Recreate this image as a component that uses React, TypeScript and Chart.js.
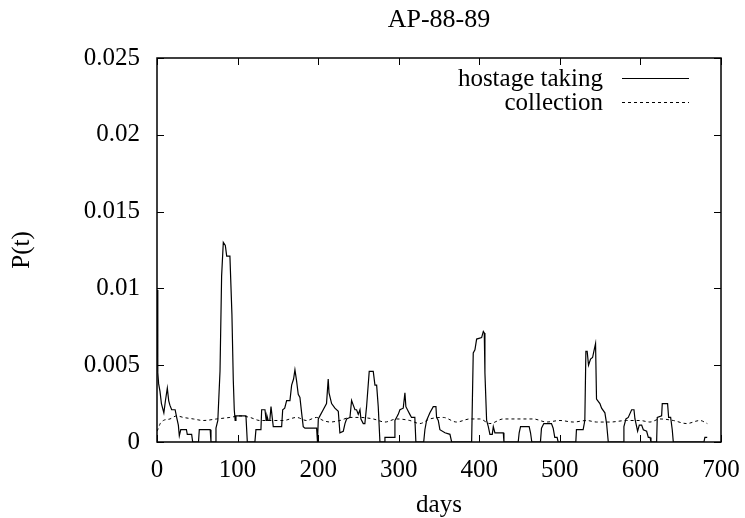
import React, { useEffect, useRef } from "react";
import { Chart, registerables } from "chart.js";

Chart.register(...registerables);

const chartTitle = "AP-88-89";
const xAxisTitle = "days";
const yAxisTitle = "P(t)";
const seriesLabels = ["hostage taking", "collection"];

const hostageDays = [
  0, 1, 2, 3.7, 5.5, 8.5, 10.5, 12.8, 14.5, 16, 18.2, 22.5, 24.4, 26.5, 27.7, 29.5, 36.5, 37.6, 43, 44.3,
  51.5, 52.5, 66, 67, 72, 73.2, 75.5, 78.2, 80.2, 82.3, 84.8, 86.5, 90.5, 93, 94.7, 95.9, 97, 98, 110.4, 112.1,
  121.5, 122.8, 129, 129.9, 134, 135.5, 136.5, 138, 140, 141.5, 144.3, 154.7, 156, 158.5, 160.9, 165, 167.1, 169.5, 171.2, 173.2,
  175.3, 177.4, 179.5, 181.5, 183.6, 198.1, 199.2, 200.2, 202.2, 206.3, 210.4, 212.5, 213.5, 216.7, 220.8, 225, 227, 231.2, 233.3, 235.3,
  239.5, 241.5, 243.6, 245.7, 247.7, 249.8, 251.9, 253.1, 256, 258, 260.1, 263.4, 268.4, 270.5, 272.6, 274.6, 276.7, 282.5, 282.9, 295,
  295.3, 297.3, 299.4, 301.5, 305.6, 307.7, 308.9, 311.8, 313.8, 315.9, 320, 321.3, 331, 332.5, 334.6, 338.7, 342.9, 346.2, 347, 349.1,
  351.1, 357.4, 363.6, 365.7, 390.5, 392.5, 394.6, 396.7, 402.9, 405, 406.2, 407, 409.1, 411.2, 413.2, 416.1, 417.4, 419.4, 429.8, 430.6,
  448.3, 449.5, 451.2, 461.9, 463.6, 465.2, 475.9, 477.2, 480.1, 489.6, 491.7, 493.7, 496.6, 497.9, 519.8, 520.6, 528.9, 531, 532.3, 533.9,
  535.6, 538.1, 540.6, 542.2, 544.3, 545.5, 549.7, 551.8, 555.9, 558, 560.1, 578.7, 579.5, 582, 584.9, 589.1, 592, 593.2, 595.3, 596.5,
  598.6, 601.5, 603.6, 607.7, 609.8, 611.9, 613.1, 620.1, 620.9, 626.3, 627.1, 633.7, 635, 637.5, 639.5, 640.8, 678.8, 680, 682.9,
];

const hostageValues = [
  0.0099, 0.0045, 0.0038, 0.0033, 0.0025, 0.0019, 0.0027, 0.0035, 0.0027, 0.0024, 0.0021, 0.0021, 0.0016, 0.0011, 0.0004, 0.0008, 0.0008, 0.0005, 0.0005, 0,
  0, 0.0008, 0.0008, 0, 0, 0.0009, 0.0014, 0.0046, 0.0108, 0.013, 0.0128, 0.0121, 0.0121, 0.0083, 0.004, 0.0021, 0.0014, 0.0017, 0.0017, 0,
  0, 0.0008, 0.0008, 0.0021, 0.0021, 0.0014, 0.0017, 0.0014, 0.0014, 0.0023, 0.001, 0.001, 0.0021, 0.0022, 0.0027, 0.0027, 0.0037, 0.0041, 0.0047, 0.004,
  0.0031, 0.0029, 0.0019, 0.001, 0.0009, 0.0009, 0, 0.0015, 0.0017, 0.0021, 0.0025, 0.0041, 0.0032, 0.0025, 0.0022, 0.002, 0.0006, 0.0007, 0.0012, 0.0015,
  0.0016, 0.0027, 0.0024, 0.0021, 0.0021, 0.0018, 0.0021, 0.0015, 0.0012, 0.0012, 0.0023, 0.0046, 0.0046, 0.0037, 0.0037, 0.0023, 0, 0, 0.0003, 0.0003,
  0.0014, 0.0016, 0.0018, 0.0021, 0.0022, 0.0032, 0.0023, 0.002, 0.0018, 0.0016, 0.0016, 0, 0, 0.0008, 0.0014, 0.0019, 0.0023, 0.0023, 0.0016, 0.0014,
  0.0008, 0.0006, 0.0005, 0, 0, 0.0058, 0.006, 0.0067, 0.0068, 0.0072, 0.0071, 0.0045, 0.0014, 0.001, 0.0005, 0.0005, 0.001, 0.0006, 0.0006, 0,
  0, 0.0006, 0.001, 0.001, 0.0006, 0, 0, 0.0009, 0.0012, 0.0012, 0.0009, 0.0003, 0.0003, 0, 0, 0.0008, 0.0008, 0.0014, 0.0059, 0.0059,
  0.005, 0.0054, 0.0055, 0.0059, 0.0064, 0.0028, 0.0025, 0.0022, 0.0019, 0.0012, 0, 0, 0.001, 0.0015, 0.0016, 0.0021, 0.0021, 0.0015, 0.001, 0.0007,
  0.0011, 0.0011, 0.0008, 0.0007, 0.0003, 0.0003, 0, 0, 0.0016, 0.0017, 0.0025, 0.0025, 0.0016, 0.0016, 0.0008, 0, 0, 0.0003, 0.0003,
];

const collectionDays = [
  0, 1.7, 4, 7.9, 16.1, 24.4, 32.7, 45.1, 57.5, 74, 90.5, 103, 115.4, 127.8, 140.2, 156.7, 173.2, 185.6, 198.1, 206.3,
  214.6, 227, 239.5, 251.9, 268.4, 282.9, 297.3, 313.8, 326.2, 338.7, 355.2, 371.8, 388.3, 400.7, 413.2, 429.8, 446.3, 467, 483.6, 500.1,
  516.7, 533.2, 545.6, 562.2, 582.9, 599.4, 611.8, 624.2, 640.8, 657.3, 673.9, 683,
];

const collectionValues = [
  0.0007, 0.0009, 0.0012, 0.0014, 0.0015, 0.0017, 0.0016, 0.0015, 0.0014, 0.0015, 0.0016, 0.0017, 0.0016, 0.0014, 0.0014, 0.0014, 0.0016, 0.0014, 0.0016, 0.0014,
  0.0013, 0.0014, 0.0016, 0.0016, 0.0015, 0.0013, 0.0015, 0.0014, 0.0012, 0.0015, 0.0016, 0.0013, 0.0015, 0.0015, 0.0012, 0.0015, 0.0015, 0.0015, 0.0013, 0.0014,
  0.0013, 0.0014, 0.0013, 0.0013, 0.0014, 0.0014, 0.0013, 0.0015, 0.0014, 0.0012, 0.0014, 0.0012,
];

const FONT = "'Liberation Serif', 'Times New Roman', serif";

const framePlugin = {
  id: "gnuplotFrame",
  afterDraw(chart: any) {
    const { ctx, chartArea } = chart;
    const { left, right, top, bottom } = chartArea;
    const xs = chart.scales.x;
    const ys = chart.scales.y;
    const tl = 7;
    ctx.save();
    ctx.strokeStyle = "#000";
    ctx.lineWidth = 1;
    ctx.beginPath();
    xs.ticks.forEach((t: any) => {
      const px = Math.round(xs.getPixelForValue(t.value)) + 0.5;
      ctx.moveTo(px, bottom);
      ctx.lineTo(px, bottom - tl);
      ctx.moveTo(px, top);
      ctx.lineTo(px, top + tl);
    });
    ys.ticks.forEach((t: any) => {
      const py = Math.round(ys.getPixelForValue(t.value)) + 0.5;
      ctx.moveTo(left, py);
      ctx.lineTo(left + tl, py);
      ctx.moveTo(right, py);
      ctx.lineTo(right - tl, py);
    });
    ctx.stroke();
    ctx.lineWidth = 1.5;
    ctx.strokeRect(left, top, right - left, bottom - top);

    // legend (gnuplot style: text right-aligned, sample to the right)
    ctx.font = `25px ${FONT}`;
    ctx.textAlign = "right";
    ctx.textBaseline = "middle";
    ctx.fillStyle = "#000";
    const rows = [79, 103];
    chart.data.datasets.forEach((ds: any, i: number) => {
      const y = rows[i];
      ctx.fillText(ds.label, 603, y);
      ctx.beginPath();
      ctx.lineWidth = 1;
      ctx.setLineDash(ds.borderDash || []);
      ctx.moveTo(622, y - 0.5);
      ctx.lineTo(689, y - 0.5);
      ctx.stroke();
      ctx.setLineDash([]);
    });
    ctx.restore();
  },
};

export default function App() {
  const canvasRef = useRef<HTMLCanvasElement | null>(null);

  useEffect(() => {
    if (!canvasRef.current) return;
    const hostage = hostageDays.map((d, i) => ({ x: d, y: hostageValues[i] }));
    const collection = collectionDays.map((d, i) => ({ x: d, y: collectionValues[i] }));
    const chart = new Chart(canvasRef.current, {
      type: "line",
      data: {
        datasets: [
          {
            label: seriesLabels[0],
            data: hostage,
            borderColor: "#000",
            borderWidth: 1.2,
            pointRadius: 0,
            tension: 0,
            fill: false,
          },
          {
            label: seriesLabels[1],
            data: collection,
            borderColor: "#000",
            borderWidth: 1,
            borderDash: [3, 3],
            pointRadius: 0,
            cubicInterpolationMode: "monotone",
            fill: false,
          },
        ],
      },
      options: {
        animation: false,
        responsive: true,
        maintainAspectRatio: false,
        devicePixelRatio: 1,
        layout: { padding: { left: 0, right: 24, top: 0, bottom: 0 } },
        plugins: {
          legend: { display: false },
          tooltip: { enabled: false },
          title: {
            display: true,
            fullSize: false,
            text: chartTitle,
            color: "#000",
            font: { family: FONT, size: 26, weight: "normal", lineHeight: 1.2 },
            padding: { top: 5, bottom: 21.8 },
          },
        },
        scales: {
          x: {
            type: "linear",
            min: 0,
            max: 700,
            ticks: {
              stepSize: 100,
              color: "#000",
              padding: 13,
              font: { family: FONT, size: 25 },
              maxRotation: 0,
            },
            grid: { display: false, drawTicks: false },
            border: { display: false },
            title: {
              display: true,
              text: xAxisTitle,
              color: "#000",
              font: { family: FONT, size: 25, lineHeight: 1 },
              padding: { top: 0, bottom: 0 },
            },
            afterFit: (scale: any) => {
              scale.height = 76;
              scale.paddingLeft = 0;
              scale.paddingRight = 0;
            },
          },
          y: {
            type: "linear",
            min: 0,
            max: 0.025,
            ticks: {
              stepSize: 0.005,
              color: "#000",
              padding: 17,
              font: { family: FONT, size: 25 },
              callback: (v: any) => String(Number(Number(v).toFixed(4))),
            },
            grid: { display: false, drawTicks: false },
            border: { display: false },
            title: {
              display: true,
              text: yAxisTitle,
              color: "#000",
              font: { family: FONT, size: 25, lineHeight: 1.2 },
              padding: { top: 7, bottom: 0 },
            },
            afterFit: (scale: any) => {
              scale.width = 157;
            },
          },
        },
      },
      plugins: [framePlugin],
    });
    return () => chart.destroy();
  }, []);

  return (
    <div style={{ position: "fixed", left: 0, top: 0, width: 745, height: 518, background: "#fff" }}>
      <canvas ref={canvasRef} />
    </div>
  );
}
